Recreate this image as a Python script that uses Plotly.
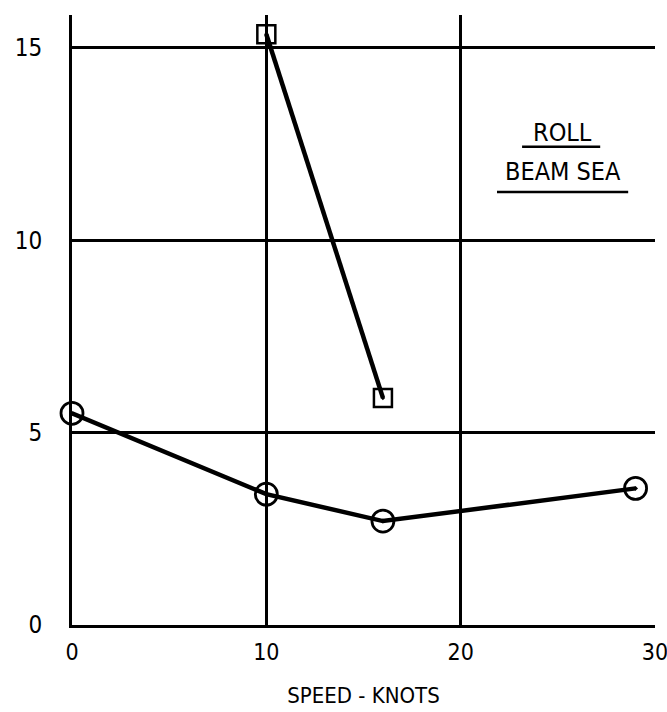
import plotly.graph_objects as go

# Data
square_speed = [10, 16]
square_roll = [15.35, 5.9]
circle_speed = [0, 10, 16, 29]
circle_roll = [5.5, 3.4, 2.7, 3.55]

x_ticks = [0, 10, 20, 30]
y_ticks = [0, 5, 10, 15]

FONT = "DejaVu Sans Condensed, Liberation Sans Narrow, sans-serif"

fig = go.Figure()
fig.add_trace(go.Scatter(
    x=square_speed, y=square_roll, mode="lines+markers",
    line=dict(color="black", width=4.5),
    marker=dict(symbol="square-open-dot", size=18, color="black",
                line=dict(width=2.5, color="black")),
    cliponaxis=False, showlegend=False))
fig.add_trace(go.Scatter(
    x=circle_speed, y=circle_roll, mode="lines+markers",
    line=dict(color="black", width=4.5),
    marker=dict(symbol="circle-open-dot", size=22, color="black",
                line=dict(width=2.8, color="black")),
    cliponaxis=False, showlegend=False))

fig.add_annotation(text="ROLL", x=0.842, y=0.807, xref="paper", yref="paper",
                   xanchor="center", yanchor="middle", showarrow=False,
                   font=dict(size=25, color="black", family=FONT))
fig.add_annotation(text="BEAM SEA", x=0.842, y=0.743, xref="paper", yref="paper",
                   xanchor="center", yanchor="middle", showarrow=False,
                   font=dict(size=25, color="black", family=FONT))

fig.add_shape(type="line", xref="paper", yref="paper", x0=0.772, x1=0.906,
              y0=0.784, y1=0.784, line=dict(color="black", width=2.5))
fig.add_shape(type="line", xref="paper", yref="paper", x0=0.729, x1=0.954,
              y0=0.710, y1=0.710, line=dict(color="black", width=2.5))

fig.update_xaxes(range=[0, 30], tickvals=x_ticks, ticktext=[str(v) for v in x_ticks],
                 showgrid=True, gridcolor="black", gridwidth=2.5,
                 showline=True, linecolor="black", linewidth=3,
                 zeroline=False, ticks="", ticklabelstandoff=4, automargin=False,
                 ticklabeloverflow="allow",
                 tickfont=dict(size=23, color="black", family=FONT),
                 title=dict(text="SPEED - KNOTS", standoff=25,
                            font=dict(size=22, color="black", family=FONT)))
fig.update_yaxes(range=[0, 15.85], tickvals=y_ticks, ticktext=[str(v) for v in y_ticks],
                 showgrid=True, gridcolor="black", gridwidth=2.5,
                 showline=True, linecolor="black", linewidth=3,
                 zeroline=False, ticks="", ticklabelstandoff=22, automargin=False,
                 tickfont=dict(size=24, color="black", family=FONT))

fig.update_layout(width=667, height=712, plot_bgcolor="white", paper_bgcolor="white",
                  margin=dict(l=72, r=12, t=15, b=87))

fig.write_html("out.html",
               config={"displayModeBar": False},
               post_script="document.body.style.margin='0';"
                           "document.body.style.overflow='hidden';")
